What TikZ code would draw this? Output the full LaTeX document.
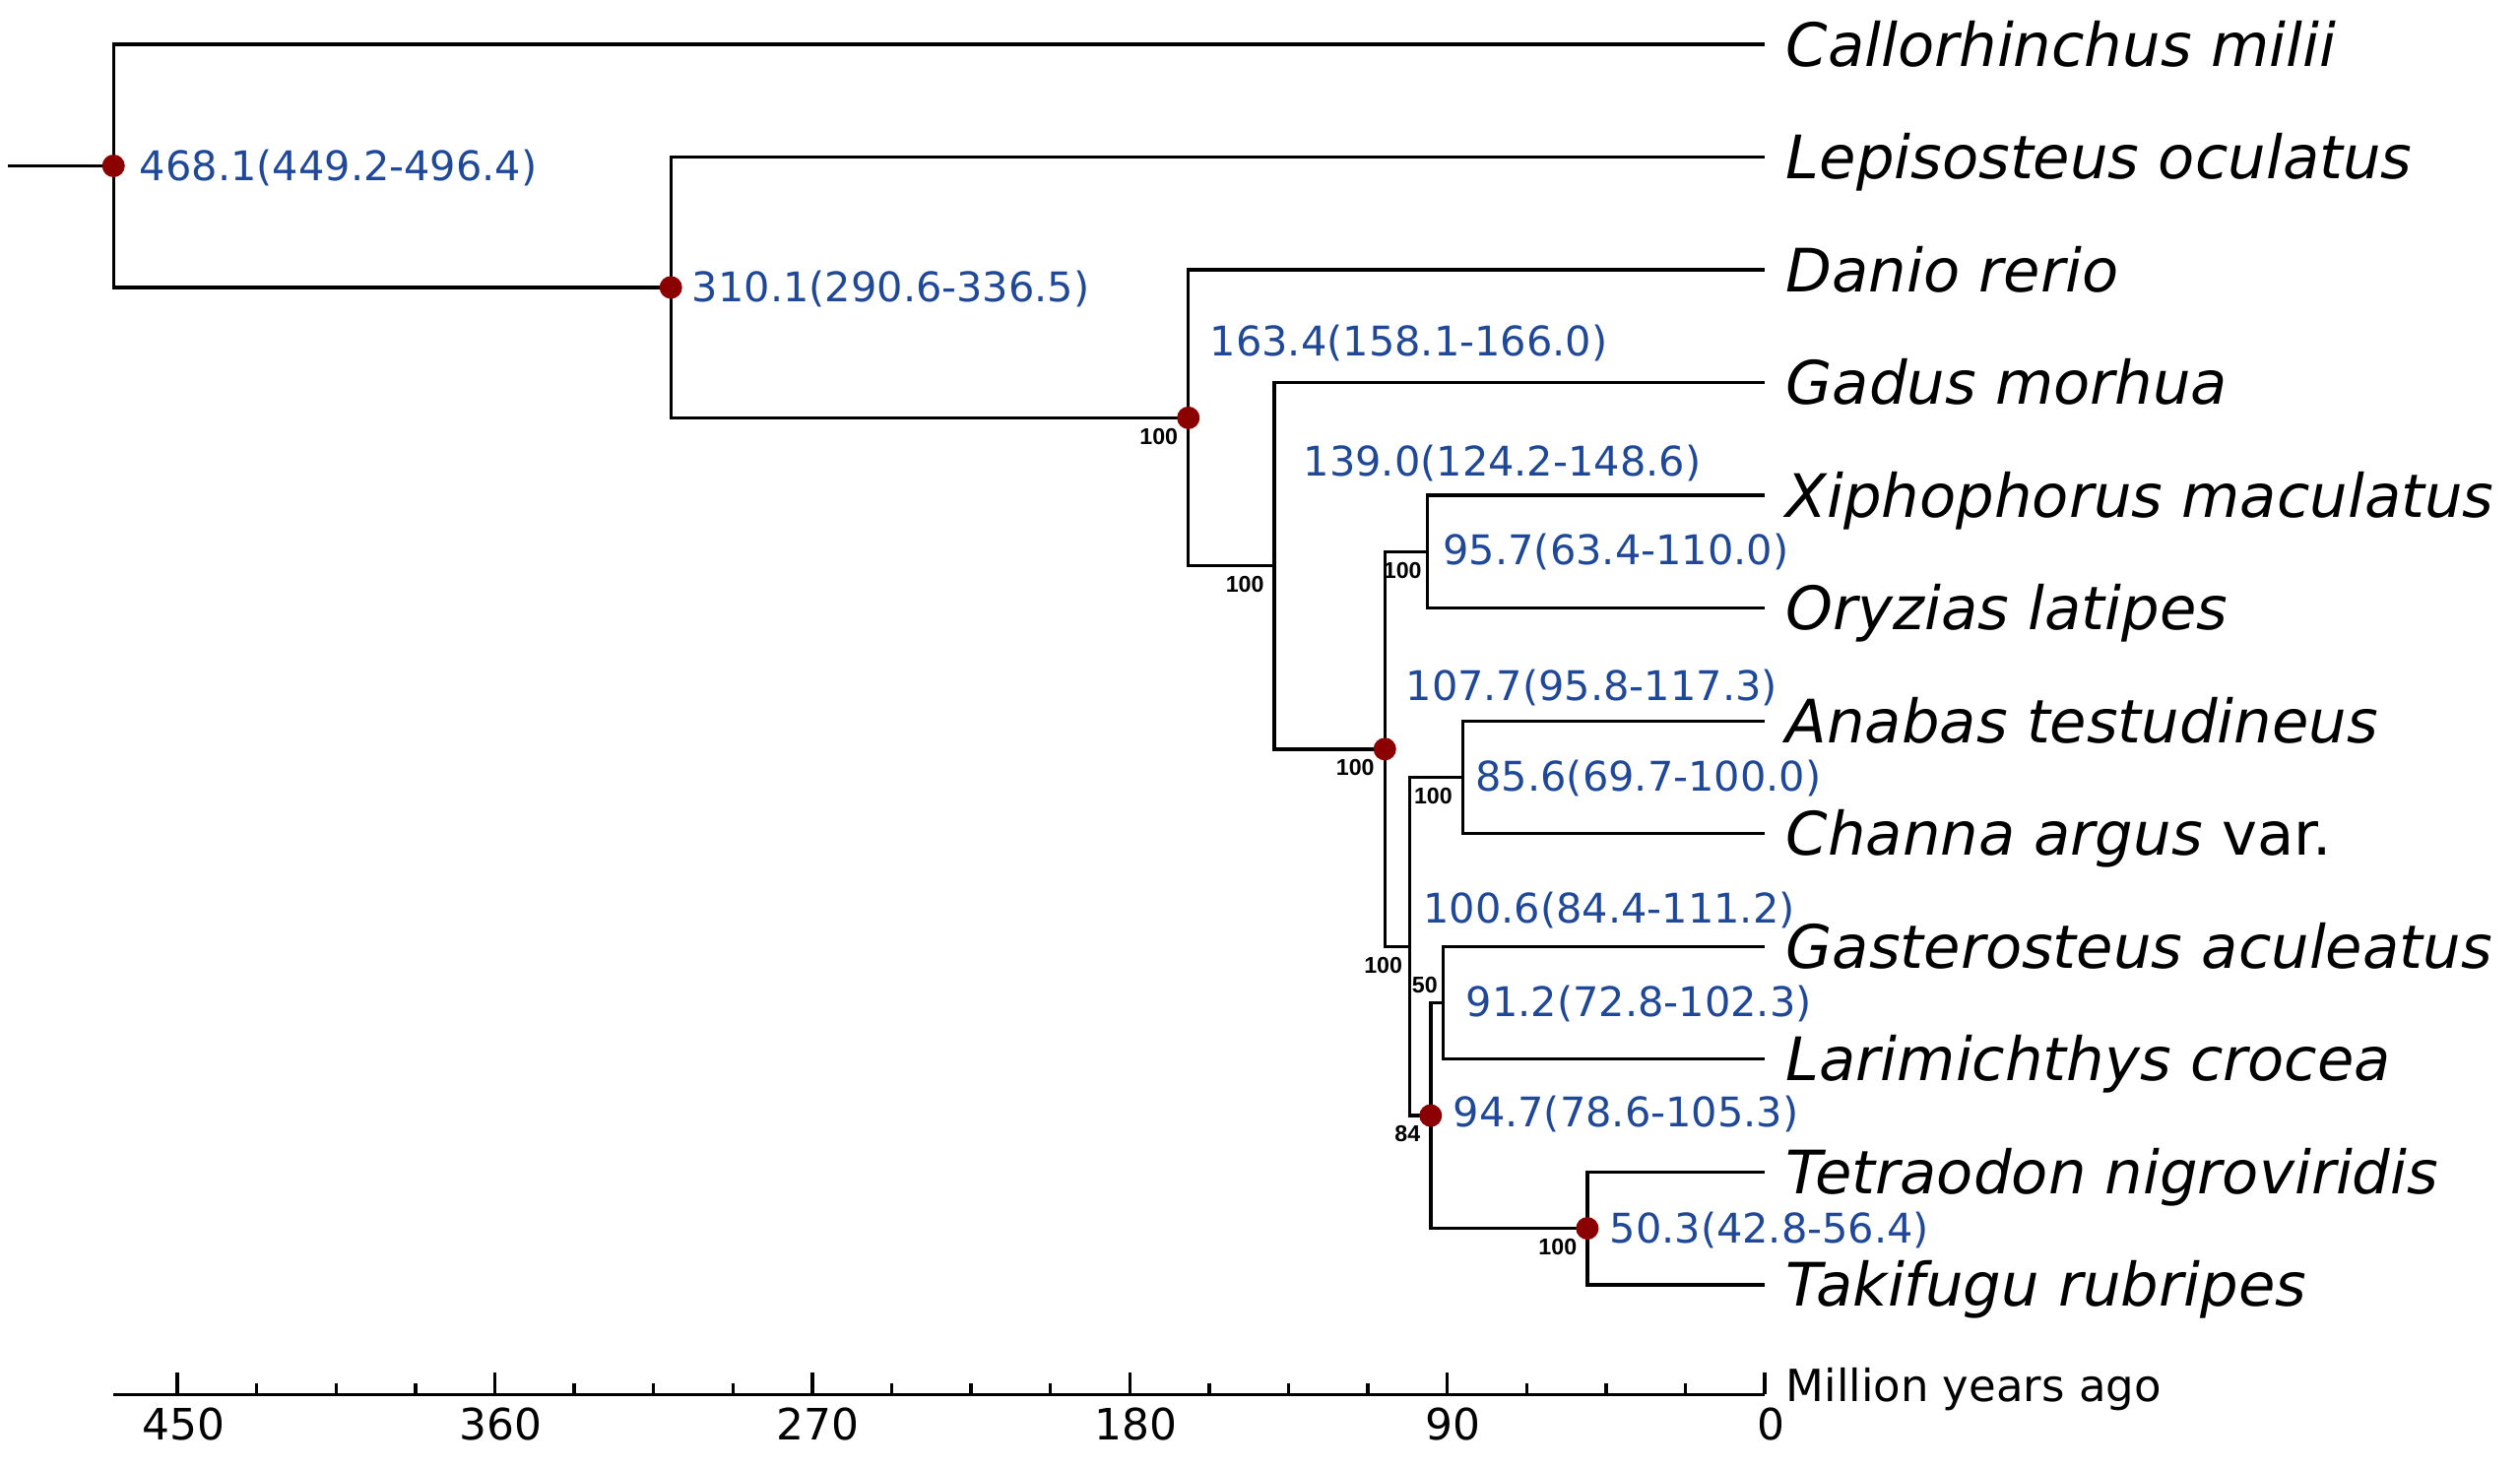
\documentclass[tikz,border=0pt]{standalone}
\usepackage{fontspec}
\setmainfont{DejaVu Sans}
\newfontfamily\bootfont{Liberation Sans}
\definecolor{agecol}{RGB}{32,72,152}
\definecolor{dotcol}{RGB}{139,0,0}

\begin{document}
\begin{tikzpicture}
[x=-0.03582cm,y=-1.145cm,line width=0.95pt,%
  leaf/.style={anchor=west,inner xsep=0.2cm,inner ysep=0pt,text height=0.44cm,text depth=0pt,font=\fontsize{17.3}{20}\selectfont\itshape},%
  age/.style={anchor=west,inner sep=0pt,text height=0.3cm,text depth=0pt,text=agecol,font=\fontsize{11.8}{14}\selectfont},%
  boot/.style={anchor=north east,inner sep=0pt,xshift=-0.09cm,yshift=-0.09cm,font=\bootfont\bfseries\fontsize{6.6}{8}\selectfont},%
  tick/.style={anchor=north,xshift=0.06cm,font=\fontsize{12.5}{15}\selectfont},%
  nodedot/.style={fill=dotcol}]
\useasboundingbox (500.28,-0.393) rectangle (-214.1,12.62);
\coordinate (root) at (498,1.078);
\coordinate (r) at (468.1,1.078);
\coordinate (n1) at (310.1,2.156);
\coordinate (n2) at (163.4,3.3125);
\coordinate (n3) at (139.0,4.625);
\coordinate (n4) at (107.7,6.25);
\coordinate (n5) at (95.7,4.5);
\coordinate (n6) at (100.6,8);
\coordinate (n7) at (85.6,6.5);
\coordinate (n8) at (94.7,9.5);
\coordinate (n9) at (91.2,8.5);
\coordinate (n10) at (50.3,10.5);
\node[leaf] (cmil) at (0,0) {Callorhinchus milii};
\node[leaf] (locu) at (0,1) {Lepisosteus oculatus};
\node[leaf] (drer) at (0,2) {Danio rerio};
\node[leaf] (gmor) at (0,3) {Gadus morhua};
\node[leaf] (xmac) at (0,4) {Xiphophorus maculatus};
\node[leaf] (olat) at (0,5) {Oryzias latipes};
\node[leaf] (ates) at (0,6) {Anabas testudineus};
\node[leaf] (carg) at (0,7) {Channa argus {\upshape var.}};
\node[leaf] (gacu) at (0,8) {Gasterosteus aculeatus};
\node[leaf] (lcro) at (0,9) {Larimichthys crocea};
\node[leaf] (tnig) at (0,10) {Tetraodon nigroviridis};
\node[leaf] (trub) at (0,11) {Takifugu rubripes};
\draw (root) -- (r);
\draw (r) |- (cmil.west);
\draw (r) |- (n1);
\draw (n1) |- (locu.west);
\draw (n1) |- (n2);
\draw (n2) |- (drer.west);
\draw (n2) |- (n3);
\draw (n3) |- (gmor.west);
\draw (n3) |- (n4);
\draw (n4) |- (n5);
\draw (n4) |- (n6);
\draw (n5) |- (xmac.west);
\draw (n5) |- (olat.west);
\draw (n6) |- (n7);
\draw (n6) |- (n8);
\draw (n7) |- (ates.west);
\draw (n7) |- (carg.west);
\draw (n8) |- (n9);
\draw (n8) |- (n10);
\draw (n9) |- (gacu.west);
\draw (n9) |- (lcro.west);
\draw (n10) |- (tnig.west);
\draw (n10) |- (trub.west);
\foreach \n in {r,n1,n2,n4,n8,n10}
  \fill[nodedot] (\n) circle (0.115cm);
\node[age] (a468) at (461.1,1.078) {468.1(449.2-496.4)};
\node[age] (a310) at (304.5,2.156) {310.1(290.6-336.5)};
\node[age] (a163) at (157.7,2.63) {163.4(158.1-166.0)};
\node[age] (a139) at (131.2,3.70) {139.0(124.2-148.6)};
\node[age] (a96) at (91.6,4.48) {95.7(63.4-110.0)};
\node[age] (a108) at (102.2,5.69) {107.7(95.8-117.3)};
\node[age] (a86) at (82.4,6.49) {85.6(69.7-100.0)};
\node[age] (a101) at (97.2,7.66) {100.6(84.4-111.2)};
\node[age] (a91) at (85.1,8.49) {91.2(72.8-102.3)};
\node[age] (a95) at (88.8,9.47) {94.7(78.6-105.3)};
\node[age] (a50) at (44.4,10.5) {50.3(42.8-56.4)};
\node[boot] (b2) at (n2) {100};
\node[boot] (b3) at (n3) {100};
\node[boot] (b4) at (n4) {100};
\node[boot,xshift=0.05cm] (b5) at (n5) {100};
\node[boot,xshift=0.03cm] (b6) at (n6) {100};
\node[boot] (b7) at (n7) {100};
\node[boot] (b8) at (n8) {84};
\node[boot,anchor=south east,xshift=0.05cm,yshift=0.17cm] (b9) at (n9) {50};
\node[boot] (b10) at (n10) {100};
\coordinate (axl) at (468.1,11.974);
\coordinate (axr) at (0,11.974);
\draw (axl) -- (axr);
\foreach \t in {22.5,45,...,450}
  \draw (\t,11.974) -- ++(0,-0.096);
\foreach \t in {0,90,...,450}
{
  \draw (\t,11.974) -- ++(0,-0.2);
  \node[tick] at (\t,11.974) {\t};
}
\node[anchor=base west,inner sep=0pt,xshift=0.2cm,yshift=-0.07cm,font=\fontsize{12.8}{15}\selectfont] (mya) at (axr) {Million years ago};
\end{tikzpicture}
\end{document}
